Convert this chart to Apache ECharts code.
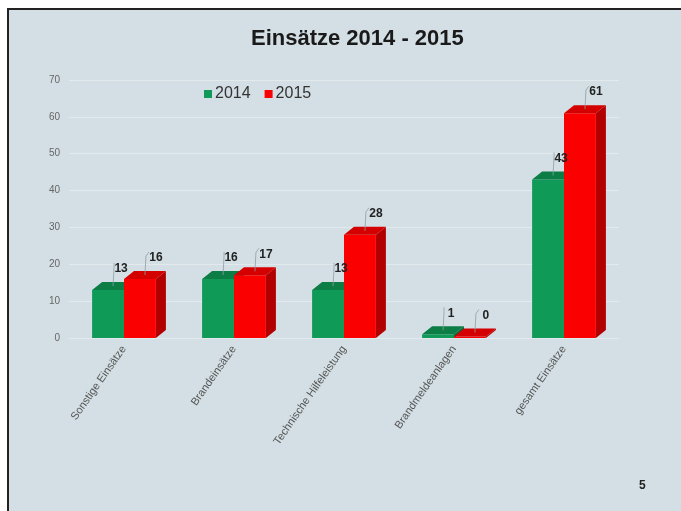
<!DOCTYPE html>
<html>
<head>
<meta charset="utf-8">
<script src="https://cdn.jsdelivr.net/npm/echarts@6/dist/echarts.min.js"></script>
<style>
html,body{margin:0;padding:0;background:#ffffff;width:681px;height:511px;overflow:hidden;}
#frame{position:absolute;left:7px;top:8px;width:680px;height:510px;background:#d3dfe4;border-left:2px solid #222;border-top:2px solid #222;}
#chart{position:absolute;left:0;top:0;width:681px;height:511px;}
</style>
</head>
<body>
<div id="frame"></div>
<div id="chart"></div>
<script>
const categories = ['Sonstige Einsätze', 'Brandeinsätze', 'Technische Hilfeleistung', 'Brandmeldeanlagen', 'gesamt Einsätze'];
const values2014 = [13, 16, 13, 1, 43];
const values2015 = [16, 17, 28, 0, 61];
const seriesNames = ['2014', '2015'];
const yTicks = [0, 10, 20, 30, 40, 50, 60, 70];

const palette = [
  { front: '#0f9a58', top: '#0b7d45', side: '#08693a' },
  { front: '#fb0000', top: '#d40000', side: '#b20000' }
];

function makeRender(si) {
  return function (params, api) {
    const idx = api.value(0), val = api.value(1);
    const base = api.coord([idx, 0]);
    const topP = api.coord([idx, val]);
    const cw = api.size([1, 0])[0];
    const bw = cw * 0.29;
    const x0 = si === 0 ? base[0] - bw : base[0];
    const x1 = x0 + bw;
    const yb = base[1];
    let yt = topP[1];
    if (yb - yt < 1.5) yt = yb - 1.5;
    const dx = 10, dy = 8;
    const c = palette[si];
    const cx = x0 + bw / 2;
    const lx = cx + 13 + (si === 1 ? 3 : 0), ly = yt - dy - 13;
    return {
      type: 'group',
      children: [
        { type: 'polygon', shape: { points: [[x1, yt], [x1 + dx, yt - dy], [x1 + dx, yb - dy], [x1, yb]] }, style: { fill: c.side } },
        { type: 'rect', shape: { x: x0, y: yt, width: bw, height: yb - yt }, style: { fill: c.front } },
        { type: 'polygon', shape: { points: [[x0, yt], [x0 + dx, yt - dy], [x1 + dx, yt - dy], [x1, yt]] }, style: { fill: c.top } },
        { type: 'polyline', z2: 50, shape: { points: [[cx + dx / 2, yt - dy / 2], [cx + 6, ly - 2], [lx - 7, ly - 6]] }, style: { stroke: '#8f9ea4', lineWidth: 0.8, fill: null } },
        { type: 'text', z2: 100, x: lx, y: ly, style: { text: String(val), fill: '#222', font: 'bold 12px "Liberation Sans", Arial, sans-serif', textAlign: 'center', textVerticalAlign: 'middle' } }
      ]
    };
  };
}

const chart = echarts.init(document.getElementById('chart'), null, { renderer: 'canvas' });
const option = {
  backgroundColor: 'transparent',
  animation: false,
  textStyle: { fontFamily: '"Liberation Sans", Arial, sans-serif' },
  title: {
    text: 'Einsätze 2014 - 2015',
    left: 246, top: 23,
    textStyle: { fontSize: 22, fontWeight: 'bold', color: '#1a1a1a', fontFamily: '"Liberation Sans", Arial, sans-serif' }
  },
  legend: {
    data: seriesNames.map((n, i) => ({ name: n, icon: 'rect', itemStyle: { color: palette[i].front } })),
    left: 199, top: 81,
    itemWidth: 8, itemHeight: 8, itemGap: 14,
    textStyle: { fontSize: 16, color: '#333', padding: [0, 0, 0, -2] }
  },
  grid: { left: 69, right: 62, top: 80, bottom: 173, containLabel: false },
  xAxis: {
    type: 'category',
    data: categories,
    axisLine: { show: false },
    axisTick: { show: false },
    axisLabel: { rotate: 55, fontSize: 11, color: '#555', margin: 9, interval: 0 }
  },
  yAxis: {
    type: 'value',
    min: yTicks[0], max: yTicks[yTicks.length - 1], interval: 10,
    axisLine: { show: false },
    axisTick: { show: false },
    axisLabel: { fontSize: 10, color: '#666', margin: 9 },
    splitLine: { lineStyle: { color: '#e2eaee', width: 1 } }
  },
  graphic: [
    { type: 'text', left: 639, top: 480, style: { text: '5', font: 'bold 12px "Liberation Sans", Arial, sans-serif', fill: '#222' } }
  ],
  series: [
    { name: seriesNames[0], type: 'custom', itemStyle: { color: palette[0].front }, renderItem: makeRender(0), data: values2014.map((v, i) => [i, v]), encode: { x: 0, y: 1 } },
    { name: seriesNames[1], type: 'custom', itemStyle: { color: palette[1].front }, renderItem: makeRender(1), data: values2015.map((v, i) => [i, v]), encode: { x: 0, y: 1 } }
  ]
};
chart.setOption(option);
</script>
</body>
</html>
